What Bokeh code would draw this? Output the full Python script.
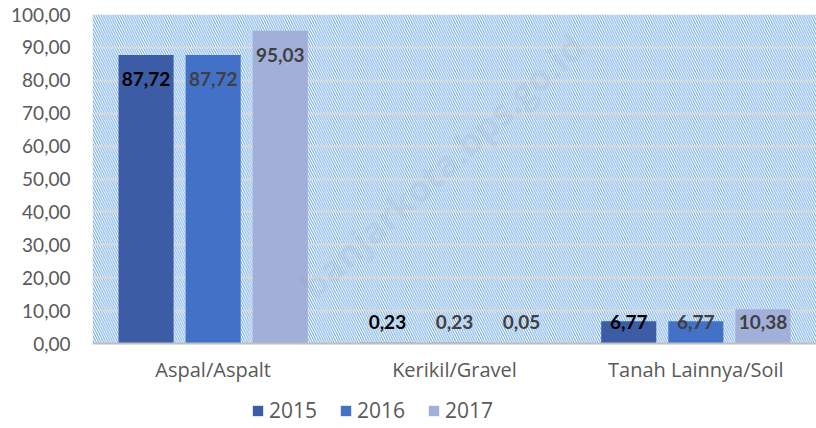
from bokeh.plotting import figure
from bokeh.layouts import column
from bokeh.models import ColumnDataSource, FactorRange, BoxAnnotation, Legend, LegendItem, Label, Range1d
from bokeh.transform import dodge
from bokeh.core.properties import value
from bokeh.embed import file_html
from bokeh.resources import INLINE

categories = ["Aspal/Aspalt", "Kerikil/Gravel", "Tanah Lainnya/Soil"]
years = ["2015", "2016", "2017"]
v2015 = [87.72, 0.23, 6.77]
v2016 = [87.72, 0.23, 6.77]
v2017 = [95.03, 0.05, 10.38]
y_ticks = [0, 10, 20, 30, 40, 50, 60, 70, 80, 90, 100]
y_tick_labels = ["0,00", "10,00", "20,00", "30,00", "40,00", "50,00",
                 "60,00", "70,00", "80,00", "90,00", "100,00"]

series = [v2015, v2016, v2017]
colors = ["#3c5ca6", "#4471c8", "#a1afd9"]
label_colors = ["#000000", "#404040", "#404040"]
offsets = [-0.278, 0.0, 0.278]

p = figure(width=816, height=396, x_range=FactorRange(*categories),
           y_range=Range1d(0, 100), output_backend="svg", toolbar_location=None,
           min_border_left=92, min_border_right=0, min_border_top=14, min_border_bottom=53)
p.outline_line_color = None
p.background_fill_color = "white"

bg = BoxAnnotation(fill_alpha=0, line_color=None, hatch_pattern="\\",
                   hatch_color="#6aa6e0", hatch_weight=1.0, hatch_scale=4.8, level="image")
p.add_layout(bg)

# small companion figure that only carries the legend below the chart
lf = figure(width=816, height=32, x_range=FactorRange(*categories),
            y_range=Range1d(200, 300), output_backend="svg", toolbar_location=None,
            min_border_left=0, min_border_right=0, min_border_top=0, min_border_bottom=0,
            outline_line_color=None)
lf.axis.visible = False
lf.grid.visible = False

items = []
for vals, col, lc, off, yr in zip(series, colors, label_colors, offsets, years):
    src = ColumnDataSource(dict(
        cat=categories, val=vals,
        lbl=[f"{v:.2f}".replace(".", ",") for v in vals],
        ly=[max(v - 7.2, 6.4) for v in vals],
    ))
    p.vbar(x=dodge("cat", off, range=p.x_range), top="val", width=0.228,
           source=src, fill_color=col, line_color=None)
    p.text(x=dodge("cat", off, range=p.x_range), y="ly", text="lbl", source=src,
           text_align="center", text_baseline="middle", text_color=lc,
           text_font=value("Lato"), text_font_style="bold", text_font_size="19px")
    r2 = lf.vbar(x=dodge("cat", off, range=lf.x_range), top="val", width=0.228,
                 source=src, fill_color=col, line_color=None)
    items.append(LegendItem(label=yr, renderers=[r2]))

p.xgrid.grid_line_color = None
p.ygrid.grid_line_color = "#d9d9d9"
p.ygrid.grid_line_width = 2
p.ygrid.level = "underlay"

p.yaxis.ticker = y_ticks
p.yaxis.major_label_overrides = {t: s for t, s in zip(y_ticks, y_tick_labels)}
p.yaxis.axis_line_color = None
p.yaxis.major_tick_line_color = None
p.yaxis.minor_tick_line_color = None
p.yaxis.major_label_standoff = 16
p.yaxis.major_label_text_font = "Lato"
p.yaxis.major_label_text_font_size = "19px"
p.yaxis.major_label_text_color = "#595959"

p.xaxis.axis_line_color = "#bfbfbf"
p.xaxis.axis_line_width = 2
p.xaxis.major_tick_line_color = None
p.xaxis.minor_tick_line_color = None
p.xaxis.major_label_standoff = 6
p.xaxis.major_label_text_font = "Open Sans"
p.xaxis.major_label_text_font_size = "20px"
p.xaxis.major_label_text_color = "#595959"

legend = Legend(items=items, orientation="horizontal", location=(159, 4),
                glyph_width=13, glyph_height=13, label_standoff=5, spacing=22,
                padding=0, margin=0, border_line_color=None, background_fill_alpha=0,
                label_text_font="Open Sans", label_text_font_size="21px",
                label_text_color="#595959")
lf.add_layout(legend)

wm = Label(x=1.45, y=54, text="banjarkota.bps.go.id", angle=42.6, angle_units="deg",
           text_align="center", text_baseline="middle", text_font="Open Sans",
           text_font_style="bold", text_font_size="36px", text_color="#9a9a9a",
           text_alpha=0.15, level="overlay")
p.add_layout(wm)

open("out.html", "w").write(file_html(column(p, lf), INLINE))
